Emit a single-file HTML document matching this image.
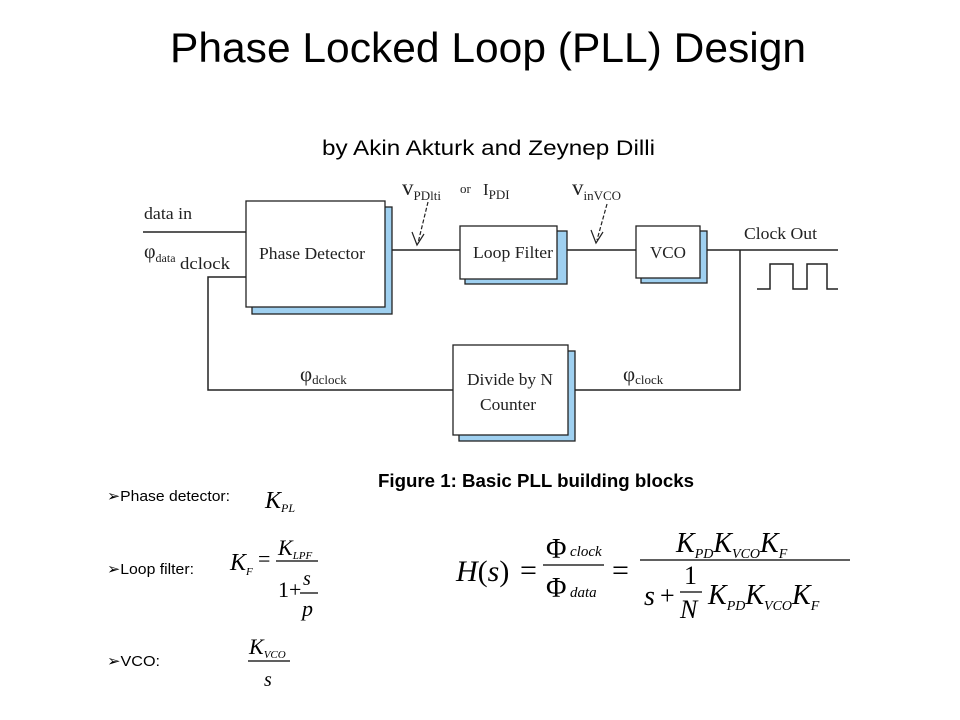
<!DOCTYPE html>
<html><head><meta charset="utf-8"><style>
body{margin:0;background:#fff;}
svg{display:block}
.t{font-family:"Liberation Serif",serif;fill:#222}
.m{font-family:"Liberation Serif",serif;font-style:italic;fill:#000}
</style></head><body>
<svg width="960" height="720" viewBox="0 0 960 720" xmlns="http://www.w3.org/2000/svg">
<rect width="960" height="720" fill="#fff"/>
<text x="170" y="62" textLength="636" lengthAdjust="spacingAndGlyphs" font-family="Liberation Sans,sans-serif" font-size="42" fill="#000">Phase Locked Loop (PLL) Design</text>
<text x="322" y="155" textLength="333" lengthAdjust="spacingAndGlyphs" font-family="Liberation Sans,sans-serif" font-size="21" fill="#000">by  Akin Akturk and Zeynep Dilli</text>

<g stroke="#222" stroke-width="1.5" fill="none">
<line x1="143" y1="232" x2="246" y2="232"/>
<polyline points="246,277 208,277 208,390 453,390"/>
<line x1="385" y1="250" x2="460" y2="250"/>
<line x1="557" y1="250" x2="636" y2="250"/>
<line x1="700" y1="250" x2="838" y2="250"/>
<polyline points="568,390 740,390 740,250"/>
<polyline points="757,289 770,289 770,264 793,264 793,289 807,289 807,264 827,264 827,289 838,289"/>
</g>
<g stroke="#222" stroke-width="1.3">
<rect x="252" y="207" width="140" height="107" fill="#9fd0f0"/>
<rect x="246" y="201" width="139" height="106" fill="#fff"/>
<rect x="465" y="231" width="102" height="53" fill="#9fd0f0"/>
<rect x="460" y="226" width="97" height="53" fill="#fff"/>
<rect x="641" y="231" width="66" height="52" fill="#9fd0f0"/>
<rect x="636" y="226" width="64" height="52" fill="#fff"/>
<rect x="459" y="351" width="116" height="90" fill="#9fd0f0"/>
<rect x="453" y="345" width="115" height="90" fill="#fff"/>
</g>
<g class="t" font-size="17">
<text x="259" y="259" textLength="106" lengthAdjust="spacingAndGlyphs">Phase Detector</text>
<text x="473" y="258" textLength="80" lengthAdjust="spacingAndGlyphs">Loop Filter</text>
<text x="650" y="258" textLength="36" lengthAdjust="spacingAndGlyphs">VCO</text>
<text x="467" y="385" textLength="86" lengthAdjust="spacingAndGlyphs">Divide by N</text>
<text x="480" y="410" textLength="56" lengthAdjust="spacingAndGlyphs">Counter</text>
<text x="144" y="219" textLength="48" lengthAdjust="spacingAndGlyphs">data in</text>
<text x="144" y="258" font-size="20">φ<tspan font-size="12" dy="4">data</tspan></text>
<text x="180" y="269" textLength="50" lengthAdjust="spacingAndGlyphs">dclock</text>
<text x="744" y="239" textLength="73" lengthAdjust="spacingAndGlyphs">Clock Out</text>
<text x="300" y="381" font-size="21">φ<tspan font-size="13" dy="3">dclock</tspan></text>
<text x="623" y="381" font-size="21">φ<tspan font-size="13" dy="3">clock</tspan></text>
<text x="402" y="195" font-size="23">v<tspan font-size="13" dy="5">PDlti</tspan></text>
<text x="460" y="193" font-size="13">or</text>
<text x="483" y="195" font-size="17">I<tspan font-size="13" dy="4">PDI</tspan></text>
<text x="572" y="195" font-size="23">v<tspan font-size="13" dy="5">inVCO</tspan></text>
</g>
<g stroke="#222" stroke-width="1.2" fill="none">
<line x1="428" y1="202" x2="418" y2="243" stroke-dasharray="4,2"/>
<polyline points="412,232 417,245 424,234"/>
<line x1="607" y1="204" x2="597" y2="240" stroke-dasharray="4,2"/>
<polyline points="591,230 596,243 603,232"/>
</g>

<text x="378" y="487" textLength="316" lengthAdjust="spacingAndGlyphs" font-family="Liberation Sans,sans-serif" font-weight="bold" font-size="18" fill="#000">Figure 1: Basic PLL building blocks</text>

<g font-family="Liberation Sans,sans-serif" font-size="15" fill="#000">
<text x="107" y="501" textLength="123" lengthAdjust="spacingAndGlyphs">➢Phase detector:</text>
<text x="107" y="574" textLength="87" lengthAdjust="spacingAndGlyphs">➢Loop filter:</text>
<text x="107" y="666" textLength="53" lengthAdjust="spacingAndGlyphs">➢VCO:</text>
</g>
<g class="m">
<text x="265" y="508" font-size="24">K<tspan font-size="12" dy="4">PL</tspan></text>
<text x="230" y="570" font-size="24">K<tspan font-size="11" dy="5">F</tspan></text>
<text x="258" y="566" font-style="normal" font-size="22">=</text>
<text x="278" y="555" font-size="22">K<tspan font-size="11" dy="4">LPF</tspan></text>
<line x1="276" y1="561" x2="318" y2="561" stroke="#000" stroke-width="1.2"/>
<text x="278" y="597" font-style="normal" font-size="22">1+</text>
<text x="303" y="585" font-size="20">s</text>
<line x1="300" y1="593" x2="318" y2="593" stroke="#000" stroke-width="1.2"/>
<text x="302" y="616" font-size="22">p</text>
<text x="249" y="654" font-size="22">K<tspan font-size="11" dy="4">VCO</tspan></text>
<line x1="248" y1="661" x2="290" y2="661" stroke="#000" stroke-width="1.2"/>
<text x="264" y="686" font-size="20">s</text>

<text x="456" y="581" font-size="30">H<tspan font-style="normal">(</tspan>s<tspan font-style="normal">)</tspan></text>
<text x="520" y="580" font-style="normal" font-size="30">=</text>
<text x="546" y="558" font-style="normal" font-size="28">Φ</text>
<text x="570" y="556" font-size="15">clock</text>
<line x1="543" y1="565" x2="604" y2="565" stroke="#000" stroke-width="1.3"/>
<text x="546" y="597" font-style="normal" font-size="28">Φ</text>
<text x="570" y="597" font-size="15">data</text>
<text x="612" y="580" font-style="normal" font-size="30">=</text>
<text x="676" y="552" font-size="28">K<tspan font-size="14" dy="6">PD</tspan><tspan font-size="28" dy="-6">K</tspan><tspan font-size="14" dy="6">VCO</tspan><tspan font-size="28" dy="-6">K</tspan><tspan font-size="14" dy="6">F</tspan></text>
<line x1="640" y1="560" x2="850" y2="560" stroke="#000" stroke-width="1.3"/>
<text x="644" y="605" font-size="28">s</text>
<text x="660" y="604" font-style="normal" font-size="26">+</text>
<text x="684" y="584" font-style="normal" font-size="26">1</text>
<line x1="680" y1="592" x2="702" y2="592" stroke="#000" stroke-width="1.2"/>
<text x="680" y="618" font-size="26">N</text>
<text x="708" y="604" font-size="28">K<tspan font-size="14" dy="6">PD</tspan><tspan font-size="28" dy="-6">K</tspan><tspan font-size="14" dy="6">VCO</tspan><tspan font-size="28" dy="-6">K</tspan><tspan font-size="14" dy="6">F</tspan></text>
</g>
</svg>
</body></html>
